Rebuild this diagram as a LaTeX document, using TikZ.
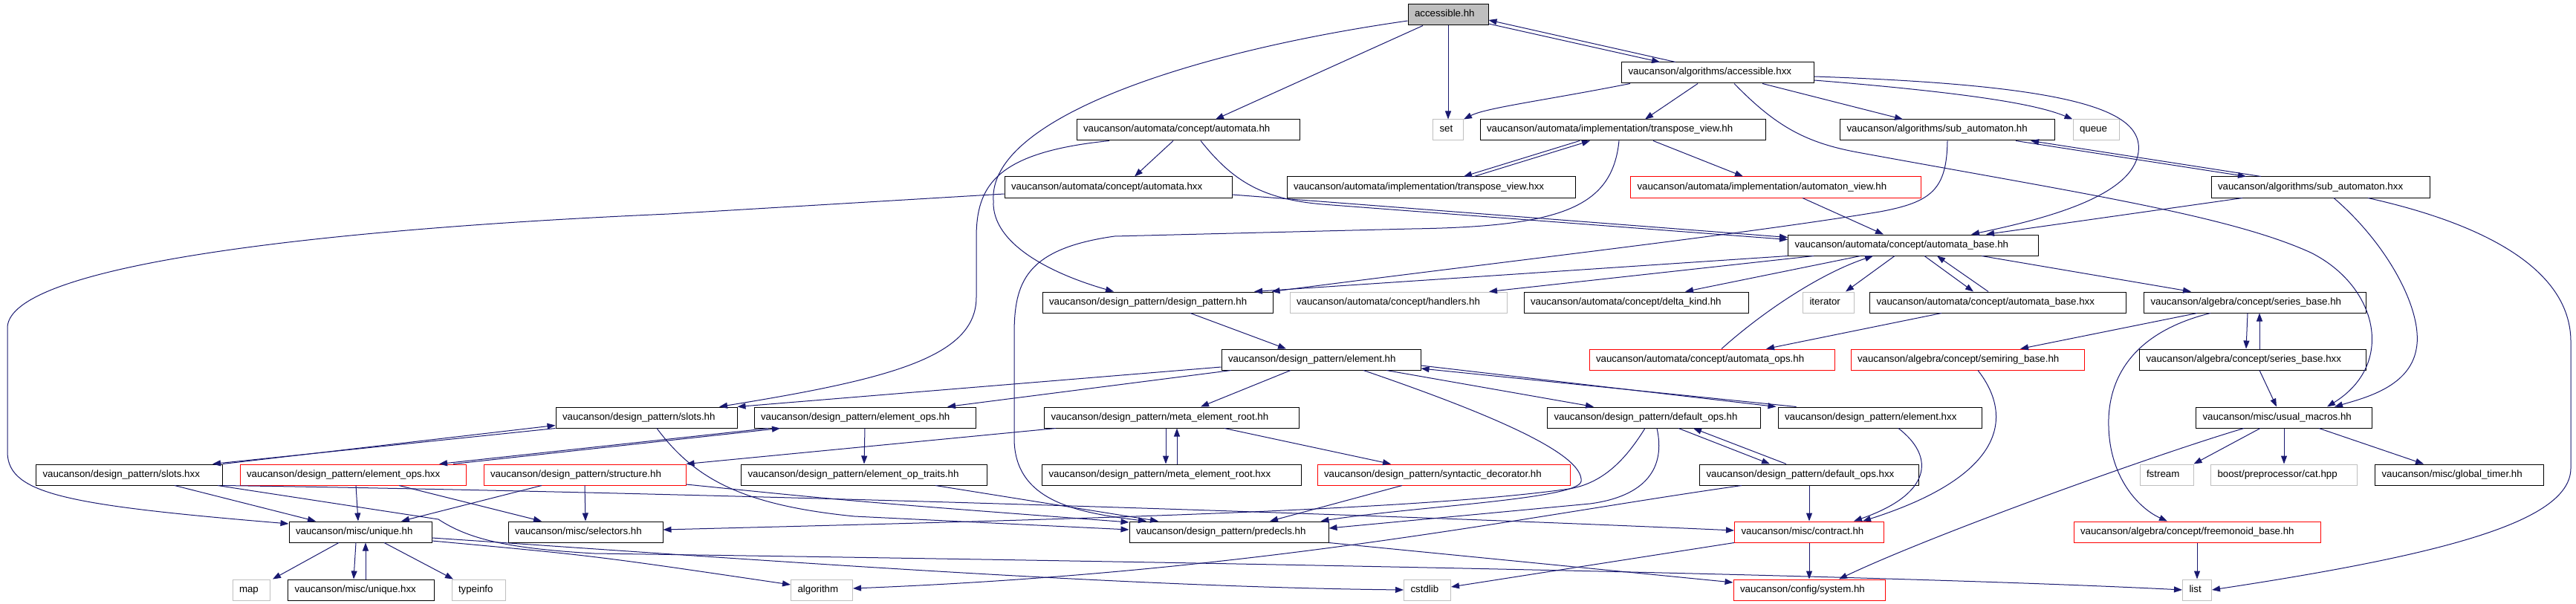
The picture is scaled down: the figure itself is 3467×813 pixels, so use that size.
\documentclass[tikz,border=0pt]{standalone}
\usepackage{fontspec}
\setmainfont{Liberation Sans}
\usetikzlibrary{arrows.meta}
\definecolor{edgeblue}{HTML}{191970}

\begin{document}
\begin{tikzpicture}[x=1pt,y=-1pt,
header/.style ={rectangle, draw=black, fill=white, line width=1pt,
  text width=#1pt, align=left, inner xsep=9pt, inner ysep=0pt,
  minimum height=28pt, text height=9pt, text depth=3pt,
  font=\fontsize{13.3}{16}\selectfont
},
sysheader/.style ={header=#1, draw=black!25},
redheader/.style ={header=#1, draw=red},
rootheader/.style ={header=#1, fill=black!25},
dep/.style ={draw=edgeblue, line width=1pt, -{Triangle[length=11pt,width=8pt]}}]
\useasboundingbox (0,0) rectangle (3467,813);

\node (acc) at (1949,20) [rootheader=90] {accessible.hh};
\node (accx) at (2312,98) [header=241] {vaucanson/algorithms/accessible.hxx};
\node (autom) at (1599,175) [header=282] {vaucanson/automata/concept/automata.hh};
\node (set) at (1949,175) [sysheader=23] {set};
\node (tvh) at (2184,175) [header=366] {vaucanson/automata/implementation/transpose\_view.hh};
\node (subh) at (2621,175) [header=271] {vaucanson/algorithms/sub\_automaton.hh};
\node (queue) at (2821,175) [sysheader=44] {queue};
\node (automx) at (1505,252) [header=288] {vaucanson/automata/concept/automata.hxx};
\node (tvx) at (1926,252) [header=370] {vaucanson/automata/implementation/transpose\_view.hxx};
\node (avh) at (2390,252) [redheader=373] {vaucanson/automata/implementation/automaton\_view.hh};
\node (subx) at (3123,252) [header=276] {vaucanson/algorithms/sub\_automaton.hxx};
\node (abase) at (2575,330) [header=319] {vaucanson/automata/concept/automata\_base.hh};
\node (dp) at (1558,407) [header=292] {vaucanson/design\_pattern/design\_pattern.hh};
\node (handlers) at (1882,407) [sysheader=274] {vaucanson/automata/concept/handlers.hh};
\node (delta) at (2202,407) [header=284] {vaucanson/automata/concept/delta\_kind.hh};
\node (iterator) at (2461,407) [sysheader=51] {iterator};
\node (abasex) at (2689,407) [header=327] {vaucanson/automata/concept/automata\_base.hxx};
\node (sbase) at (3035,407) [header=281] {vaucanson/algebra/concept/series\_base.hh};
\node (elem) at (1778,484) [header=250] {vaucanson/design\_pattern/element.hh};
\node (aops) at (2304,484) [redheader=312] {vaucanson/automata/concept/automata\_ops.hh};
\node (semi) at (2648,484) [redheader=296] {vaucanson/algebra/concept/semiring\_base.hh};
\node (sbasex) at (3032,484) [header=287] {vaucanson/algebra/concept/series\_base.hxx};
\node (slotsh) at (870,562) [header=226] {vaucanson/design\_pattern/slots.hh};
\node (eopsh) at (1164,562) [header=280] {vaucanson/design\_pattern/element\_ops.hh};
\node (merh) at (1577,562) [header=325] {vaucanson/design\_pattern/meta\_element\_root.hh};
\node (dopsh) at (2226,562) [header=269] {vaucanson/design\_pattern/default\_ops.hh};
\node (elemx) at (2530,562) [header=256] {vaucanson/design\_pattern/element.hxx};
\node (usual) at (3074,562) [header=219] {vaucanson/misc/usual\_macros.hh};
\node (slotsx) at (174,639) [header=233] {vaucanson/design\_pattern/slots.hxx};
\node (eopsx) at (475,639) [redheader=286] {vaucanson/design\_pattern/element\_ops.hxx};
\node (struct) at (787,639) [redheader=254] {vaucanson/design\_pattern/structure.hh};
\node (eoptr) at (1163,639) [header=313] {vaucanson/design\_pattern/element\_op\_traits.hh};
\node (merx) at (1577,639) [header=331] {vaucanson/design\_pattern/meta\_element\_root.hxx};
\node (synt) at (1943,639) [redheader=322] {vaucanson/design\_pattern/syntactic\_decorator.hh};
\node (dopsx) at (2435,639) [header=277] {vaucanson/design\_pattern/default\_ops.hxx};
\node (fstream) at (2916,639) [sysheader=54] {fstream};
\node (cat) at (3074,639) [sysheader=179] {boost/preprocessor/cat.hpp};
\node (timer) at (3310,639) [header=209] {vaucanson/misc/global\_timer.hh};
\node (unique) at (485,716) [header=174] {vaucanson/misc/unique.hh};
\node (sel) at (788,716) [header=190] {vaucanson/misc/selectors.hh};
\node (predecls) at (1654,716) [header=250] {vaucanson/design\_pattern/predecls.hh};
\node (contract) at (2435,716) [redheader=183] {vaucanson/misc/contract.hh};
\node (freemon) at (2957,716) [redheader=314] {vaucanson/algebra/concept/freemonoid\_base.hh};
\node (map) at (338,794) [sysheader=32] {map};
\node (uniquex) at (486,794) [header=179] {vaucanson/misc/unique.hxx};
\node (typeinfo) at (644,794) [sysheader=54] {typeinfo};
\node (algorithm) at (1106,794) [sysheader=65] {algorithm};
\node (cstdlib) at (1921,794) [sysheader=45] {cstdlib};
\node (system) at (2435,794) [redheader=186] {vaucanson/config/system.hh};
\node (list) at (2957,794) [sysheader=21] {list};

% accessible.hh and accessible.hxx
\draw[dep] ([yshift=-12]acc.east) -- ([xshift=-78]accx.north);
\draw[dep] ([xshift=-57]accx.north) -- ([yshift=-7]acc.east);
\draw[dep] (acc.south) -- (set.north);
\draw[dep] ([xshift=-34]acc.south) -- ([xshift=37]autom.north);
\draw[dep] ([yshift=-8]acc.west) .. controls (1600,70) and (1330,160) .. (1337,270) .. controls (1334,330) and (1420,370) .. ([xshift=-59]dp.north);
\draw[dep] ([xshift=-118]accx.south) .. controls (2080,135) and (2000,145) .. (set.north east);
\draw[dep] ([xshift=-27]accx.south) -- ([xshift=30]tvh.north);
\draw[dep] ([xshift=22]accx.south) .. controls (2390,170) and (2430,192) .. (2500,205) .. controls (2800,260) and (3000,290) .. (3110,340) .. controls (3200,385) and (3225,490) .. ([xshift=58]usual.north);
\draw[dep] ([xshift=60]accx.south) -- ([xshift=-60]subh.north);
\draw[dep] ([yshift=-5]accx.east) .. controls (2800,115) and (2885,150) .. (2878,205) .. controls (2870,265) and (2750,295) .. ([xshift=78]abase.north);
\draw[dep] ([yshift=-10]accx.east) .. controls (2650,125) and (2740,140) .. (queue.north west);

% automata
\draw[dep] ([xshift=-20]autom.south) -- ([xshift=22]automx.north);
\draw[dep] ([xshift=17]autom.south) .. controls (1660,245) and (1700,268) .. (1780,275) -- ([yshift=-7]abase.north west);
\draw[dep] ([yshift=-10]automx.east) -- ([yshift=-4]abase.north west);
\draw[dep] ([yshift=-9]automx.west) -- (900,288) .. controls (400,310) and (15,360) .. (10,440) -- (10,610) .. controls (12,665) and (90,680) .. ([yshift=11]unique.west);
\draw[dep] ([xshift=-106]autom.south) .. controls (1340,205) and (1314,250) .. (1314,320) -- (1314,400) .. controls (1314,480) and (1200,510) .. ([xshift=98]slotsh.north);
\draw[dep] ([xshift=-58]tvh.south) -- ([xshift=44]tvx.north);
\draw[dep] ([xshift=58]tvx.north) -- ([xshift=-44]tvh.south);
\draw[dep] ([xshift=41]tvh.south) -- ([xshift=-44]avh.north);
\draw[dep] ([xshift=-5]tvh.south) .. controls (2170,280) and (2100,305) .. (1900,308) -- (1500,318) .. controls (1380,335) and (1365,380) .. (1365,450) -- (1365,590) .. controls (1365,675) and (1450,690) .. ([xshift=-111]predecls.north);
\draw[dep] ([xshift=36]avh.south) -- ([xshift=-40]abase.north);

% sub_automaton
\draw[dep] ([xshift=92]subh.south) -- ([xshift=-100]subx.north);
\draw[dep] ([xshift=-80]subx.north) -- ([xshift=112]subh.south);
\draw[dep] (subh.south) .. controls (2620,255) and (2600,272) .. (2530,285) .. controls (2350,315) and (2000,355) .. ([xshift=-2]dp.north east);
\draw[dep] ([xshift=-105]subx.south) -- ([xshift=98]abase.north);
\draw[dep] ([xshift=18]subx.south) .. controls (3215,330) and (3262,420) .. (3252,470) .. controls (3243,520) and (3185,535) .. ([xshift=68]usual.north);
\draw[dep] ([xshift=64]subx.south) .. controls (3360,305) and (3460,370) .. (3460,460) -- (3460,630) .. controls (3460,700) and (3300,745) .. (list.east);

% automata_base
\draw[dep] (abase.south west) -- ([xshift=130]dp.north);
\draw[dep] ([xshift=-134]abase.south) -- ([xshift=122]handlers.north);
\draw[dep] ([xshift=-71]abase.south) -- ([xshift=66]delta.north);
\draw[dep] ([xshift=-25]abase.south) -- ([xshift=23]iterator.north);
\draw[dep] ([xshift=15]abase.south) -- ([xshift=-33]abasex.north);
\draw[dep] ([xshift=-13]abasex.north) -- ([xshift=32]abase.south);
\draw[dep] ([xshift=92]abase.south) -- ([xshift=-86]sbase.north);
\draw[dep] ([xshift=13]aops.north) .. controls (2372,420) and (2450,368) .. ([xshift=-54]abase.south);
\draw[dep] ([xshift=-76]abasex.south) -- ([xshift=73]aops.north);

% design_pattern
\draw[dep] ([xshift=44]dp.south) -- ([xshift=-47]elem.north);
\draw[dep] ([yshift=-10]elem.west) -- (slotsh.north east);
\draw[dep] ([xshift=-121]elem.south) -- ([xshift=111]eopsh.north);
\draw[dep] ([xshift=-41]elem.south) -- ([xshift=39]merh.north);
\draw[dep] ([xshift=88]elem.south) -- ([xshift=-81]dopsh.north);
\draw[dep] ([yshift=-8]elem.east) -- ([xshift=-2]elemx.north west);
\draw[dep] ([xshift=25]elemx.north west) -- ([yshift=-12]elem.east);
\draw[dep] ([xshift=57]elem.south) .. controls (2000,555) and (2132,610) .. (2128,648) .. controls (2124,672) and (1900,682) .. ([xshift=-11]predecls.north east);
\draw[dep] ([xshift=-12]dopsh.south) .. controls (2190,615) and (2160,650) .. (2112,658) .. controls (1900,688) and (1400,700) .. ([yshift=3]sel.east);
\draw[dep] ([xshift=4]dopsh.south) .. controls (2242,630) and (2215,668) .. (2140,678) -- ([yshift=5]predecls.east);
\draw[dep] ([xshift=33]dopsh.south) -- ([xshift=-53]dopsx.north);
\draw[dep] ([xshift=-31]dopsx.north) -- ([xshift=53]dopsh.south);
\draw[dep] (dopsx.south) -- (contract.north);
\draw[dep] ([xshift=-91]dopsx.south) .. controls (2050,695) and (1700,770) .. ([yshift=2]algorithm.east);
\draw[dep] ([xshift=25]elemx.south) .. controls (2605,615) and (2600,665) .. ([xshift=60]contract.north);
\draw[dep] ([xshift=14]semi.south) .. controls (2710,560) and (2700,640) .. ([xshift=72]contract.north);

% algebra
\draw[dep] ([xshift=-10]sbase.south) -- ([xshift=-9]sbasex.north);
\draw[dep] ([xshift=9]sbasex.north) -- ([xshift=6]sbase.south);
\draw[dep] ([xshift=-78]sbase.south) -- ([xshift=71]semi.north);
\draw[dep] ([xshift=-60]sbase.south) .. controls (2860,450) and (2836,520) .. (2838,575) .. controls (2840,645) and (2880,685) .. ([xshift=-40]freemon.north);
\draw[dep] ([xshift=9]sbasex.south) -- ([xshift=-10]usual.north);
\draw[dep] ([xshift=-32]usual.south) -- (fstream.north east);
\draw[dep] (usual.south) -- (cat.north);
\draw[dep] ([xshift=47]usual.south) -- ([xshift=-48]timer.north);
\draw[dep] ([xshift=-54]usual.south) .. controls (2900,612) and (2600,720) .. ([xshift=40]system.north);
\draw[dep] (freemon.south) -- (list.north);
\draw[dep] (contract.south) -- (system.north);
\draw[dep] (contract.south west) -- ([yshift=4]cstdlib.east);
\draw[dep] (predecls.south east) -- ([yshift=10]system.west);

% element layers
\draw[dep] ([xshift=-56]synt.south) -- ([xshift=55]predecls.north);
\draw[dep] ([xshift=71]merh.south) -- ([xshift=-71]synt.north);
\draw[dep] ([xshift=-156]merh.south) -- (struct.north east);
\draw[dep] ([xshift=-8]merh.south) -- ([xshift=-8]merx.north);
\draw[dep] ([xshift=7]merx.north) -- ([xshift=7]merh.south);
\draw[dep] (eopsh.south) -- (eoptr.north);
\draw[dep] ([xshift=96]eoptr.south) -- ([xshift=-95]predecls.north);
\draw[dep] ([xshift=-130]eopsh.south) -- ([xshift=116]eopsx.north);
\draw[dep] ([xshift=135]eopsx.north) -- ([xshift=-114]eopsh.south);
\draw[dep] ([xshift=4]eopsx.south) -- ([xshift=-3]unique.north);
\draw[dep] ([xshift=62]eopsx.south) -- ([xshift=-59]sel.north);
\draw[dep] ([xshift=-58]struct.south) -- ([xshift=55]unique.north);
\draw[dep] (struct.south) -- (sel.north);
\draw[dep] ([yshift=-13]struct.east) .. controls (1150,675) .. ([yshift=13]predecls.west);
\draw[dep] ([xshift=14]slotsh.south) .. controls (935,645) and (1000,680) .. (1150,695) -- ([yshift=3]predecls.west);
\draw[dep] (slotsh.south west) -- ([xshift=112]slotsx.north);
\draw[dep] ([xshift=126]slotsx.north) -- ([yshift=4]slotsh.south west);
\draw[dep] ([xshift=61]slotsx.south) -- ([xshift=-60]unique.north);
\draw[dep] (slotsx.south east) .. controls (900,662) and (1800,690) .. ([yshift=2]contract.west);
\draw[dep] ([xshift=-7]slotsx.south east) -- (590,699) .. controls (630,725) and (680,738) .. (800,745) .. controls (1500,755) and (2500,772) .. (list.west);

% unique
\draw[dep] ([xshift=-29]unique.south) -- ([xshift=29]map.north);
\draw[dep] ([xshift=-6]unique.south) -- ([xshift=-10]uniquex.north);
\draw[dep] ([xshift=6]uniquex.north) -- ([xshift=7]unique.south);
\draw[dep] ([xshift=32]unique.south) -- ([xshift=-34]typeinfo.north);
\draw[dep] ([yshift=-12]unique.east) .. controls (800,748) .. ([yshift=7]algorithm.west);
\draw[dep] ([yshift=-8]unique.east) .. controls (1000,752) and (1500,790) .. (cstdlib.west);
\end{tikzpicture}
\end{document}
